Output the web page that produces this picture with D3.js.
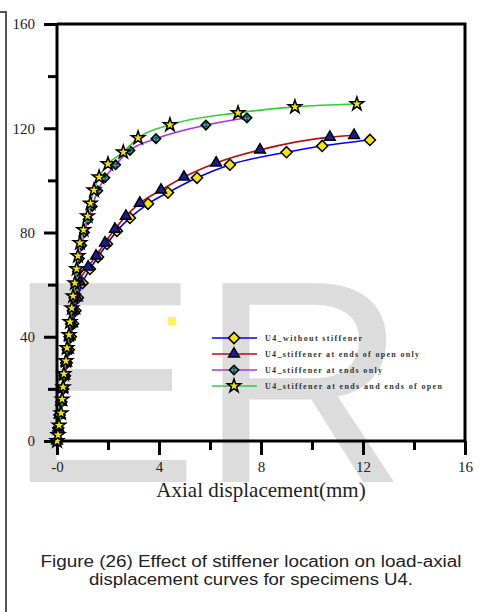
<!DOCTYPE html>
<html>
<head>
<meta charset="utf-8">
<script src="https://cdn.jsdelivr.net/npm/d3@7"></script>
<style>
	body { margin: 0; background: #fff; }
	svg { display: block; }
</style>
</head>
<body>
<svg id="chart" width="483" height="612"></svg>
<script>
// series names (legend)
var seriesNames = ["U4_without stiffener", "U4_stiffener at ends of open only", "U4_stiffener at ends only", "U4_stiffener at ends and ends of open"];

// axial displacement (mm), load (kN)
var noStiffX = [0, 0.05, 0.1, 0.17, 0.24, 0.31, 0.38, 0.46, 0.54, 0.63, 0.72, 0.82, 1.0, 1.29, 1.61, 1.96, 2.35, 2.86, 3.57, 4.35, 5.49, 6.78, 9.0, 10.4, 12.27];
var noStiffY = [0, 5, 10, 15, 20, 25, 30, 35, 40, 45, 50, 55, 60.6, 66, 70.6, 75.6, 80.6, 85.6, 91, 95.3, 101, 106, 110.8, 113.2, 115.5];

var openX = [0, 0.05, 0.1, 0.16, 0.22, 0.29, 0.36, 0.43, 0.5, 0.59, 0.68, 0.78, 0.9, 1.22, 1.53, 1.88, 2.27, 2.7, 3.25, 4.08, 4.98, 6.24, 7.96, 10.7, 11.65];
var openY = [0, 5, 10, 15, 20, 25, 30, 35, 40, 45, 50, 55, 61, 66.8, 71, 76, 81.3, 86.3, 91.3, 96.3, 101.3, 106.7, 111.7, 116.6, 117.3];

var endsX = [0, 0.05, 0.1, 0.16, 0.21, 0.27, 0.33, 0.39, 0.46, 0.52, 0.59, 0.66, 0.73, 0.8, 0.88, 0.97, 1.08, 1.22, 1.38, 1.6, 1.88, 2.3, 2.86, 3.88, 5.84, 7.45];
var endsY = [0, 5, 10, 15, 20, 25, 30, 35, 40, 45, 50, 55, 60, 65, 70, 75, 80, 85, 90, 96, 101, 106, 111.5, 116, 121.2, 124];

var bothX = [0, 0.04, 0.08, 0.16, 0.2, 0.24, 0.27, 0.35, 0.39, 0.47, 0.51, 0.58, 0.63, 0.7, 0.77, 0.82, 0.9, 1.04, 1.2, 1.31, 1.45, 1.65, 2.0, 2.6, 3.18, 4.43, 7.1, 9.33, 11.76];
var bothY = [0, 2.3, 6, 10.7, 16, 20.7, 25.7, 30.7, 35.7, 40.7, 45.7, 51, 55.6, 60.6, 66, 71, 76, 81, 86.3, 91.2, 96.2, 101.2, 106.3, 110.8, 116.3, 121.3, 125.9, 128.2, 129.3];

// ticks
var xTicks = [0, 4, 8, 12, 16];
var xTickLabels = ["-0", "4", "8", "12", "16"];
var xMinor = [2, 6, 10, 14];
var yTicks = [0, 40, 80, 120, 160];
var yMinor = [20, 60, 100, 140];

var svg = d3.select("#chart");

// pattern for the checkered diamond
var defs = svg.append("defs");
var pat = defs.append("pattern")
	.attr("id", "checker")
	.attr("width", 2)
	.attr("height", 2)
	.attr("patternUnits", "userSpaceOnUse");
pat.append("rect").attr("width", 2).attr("height", 2).attr("fill", "#111");
pat.append("rect").attr("width", 1).attr("height", 1).attr("fill", "#40e0e0");
pat.append("rect").attr("x", 1).attr("y", 1).attr("width", 1).attr("height", 1).attr("fill", "#40e0e0");

// watermark
svg.append("text")
	.attr("x", 6)
	.attr("y", 482)
	.style("font-family", "'Liberation Sans', Arial, sans-serif")
	.style("font-size", "289px")
	.style("fill", "#dcdcdc")
	.text("ER");

// page border line on the left
svg.append("path")
	.attr("d", "M0,12H6V612")
	.style("fill", "none")
	.style("stroke", "#555")
	.style("stroke-width", 2);

var x = d3.scaleLinear().domain([0, 16]).range([57, 465]);
var y = d3.scaleLinear().domain([0, 160]).range([441, 24]);

var g = svg.append("g");

// frame (top + right)
g.append("path")
	.attr("d", "M" + x(0) + "," + y(160) + "H" + x(16) + "V" + y(0))
	.style("fill", "none")
	.style("stroke", "#000")
	.style("stroke-width", 3);

// axes
g.append("g")
	.attr("transform", "translate(0," + y(0) + ")")
	.call(d3.axisBottom(x).tickValues(xTicks).tickSize(14).tickPadding(6)
		.tickFormat(function(d, i){ return xTickLabels[i]; }));
g.append("g")
	.attr("transform", "translate(0," + y(0) + ")")
	.call(d3.axisBottom(x).tickValues(xMinor).tickSize(9).tickFormat(""));

g.append("g")
	.attr("transform", "translate(" + x(0) + ",0)")
	.call(d3.axisLeft(y).tickValues(yTicks).tickSize(13).tickPadding(9));
g.append("g")
	.attr("transform", "translate(" + x(0) + ",0)")
	.call(d3.axisLeft(y).tickValues(yMinor).tickSize(9).tickFormat(""));

g.selectAll(".domain")
	.attr("d", null);
g.selectAll(".tick line")
	.style("stroke", "#000")
	.style("stroke-width", 3);
g.selectAll(".tick text")
	.style("font-family", "'Liberation Serif', 'Times New Roman', serif")
	.style("font-size", "15px")
	.style("fill", "#222");

// axis lines
g.append("path")
	.attr("d", "M" + x(0) + "," + y(160) + "V" + y(0) + "H" + x(16))
	.style("fill", "none")
	.style("stroke", "#000")
	.style("stroke-width", 3);

// axis title
g.append("text")
	.attr("x", 261)
	.attr("y", 497)
	.attr("text-anchor", "middle")
	.style("font-family", "'Liberation Serif', 'Times New Roman', serif")
	.style("font-size", "21px")
	.style("fill", "#222")
	.text("Axial displacement(mm)");

// markers
var diamond = d3.symbol().type(d3.symbolSquare).size(62)();
var tri = d3.symbol().type(d3.symbolTriangle).size(50)();
var small = d3.symbol().type(d3.symbolSquare).size(45)();
var star = d3.symbol().type(d3.symbolStar).size(55)();

var series = [
	{ xs: noStiffX, ys: noStiffY, line: "#0000ff", mark: diamond, rot: 45, fill: "#f5e600" },
	{ xs: openX, ys: openY, line: "#b01010", mark: tri, rot: 0, fill: "#1a1aa0" },
	{ xs: endsX, ys: endsY, line: "#b030e0", mark: small, rot: 45, fill: "url(#checker)" },
	{ xs: bothX, ys: bothY, line: "#30d030", mark: star, rot: 0, fill: "#f5e600" }
];

var line = d3.line()
	.x(function(d){ return x(d[0]); })
	.y(function(d){ return y(d[1]); })
	.curve(d3.curveMonotoneX);

series.forEach(function(s, k){
	var pts = s.xs.map(function(v, i){ return [v, s.ys[i]]; });
	var sg = g.append("g").attr("class", "series" + k);
	sg.append("path")
		.attr("d", line(pts))
		.style("fill", "none")
		.style("stroke", s.line)
		.style("stroke-width", 1.6);
	sg.selectAll(".pt")
		.data(pts)
	.enter().append("path")
		.attr("class", "pt")
		.attr("d", s.mark)
		.attr("transform", function(d){ return "translate(" + x(d[0]) + "," + y(d[1]) + ") rotate(" + s.rot + ")"; })
		.style("fill", s.fill)
		.style("stroke", "#000")
		.style("stroke-width", 1.5);
});

// stray marker
g.append("rect")
	.attr("x", x(4.5) - 4)
	.attr("y", y(46) - 4)
	.attr("width", 8)
	.attr("height", 8)
	.style("fill", "#fff060");

// legend
var textLen = [97, 154, 117, 177];
var legend = g.append("g")
	.attr("transform", "translate(212,338)");
series.forEach(function(s, k){
	var row = legend.append("g").attr("transform", "translate(0," + (k * 16) + ")");
	row.append("line")
		.attr("x1", 0).attr("x2", 45)
		.style("stroke", s.line)
		.style("stroke-width", 1.6);
	row.append("path")
		.attr("d", s.mark)
		.attr("transform", "translate(22,0) rotate(" + s.rot + ")")
		.style("fill", s.fill)
		.style("stroke", "#000")
		.style("stroke-width", 1.5);
	row.append("text")
		.attr("x", 53)
		.attr("y", 3)
		.attr("textLength", textLen[k])
		.attr("lengthAdjust", "spacing")
		.style("font-family", "'Liberation Serif', 'Times New Roman', serif")
		.style("font-size", "8px")
		.style("font-weight", "bold")
		.style("fill", "#333")
		.text(seriesNames[k]);
});

// caption
var caption = ["Figure (26) Effect of stiffener location on load-axial", "displacement curves for specimens U4."];
var capLen = [421, 324];
svg.selectAll(".caption")
	.data(caption)
.enter().append("text")
	.attr("class", "caption")
	.attr("x", 251)
	.attr("y", function(d, i){ return 567 + i * 18; })
	.attr("text-anchor", "middle")
	.attr("textLength", function(d, i){ return capLen[i]; })
	.attr("lengthAdjust", "spacingAndGlyphs")
	.style("font-family", "'Liberation Sans', Arial, sans-serif")
	.style("font-size", "16px")
	.style("fill", "#222")
	.text(function(d){ return d; });
</script>
</body>
</html>
